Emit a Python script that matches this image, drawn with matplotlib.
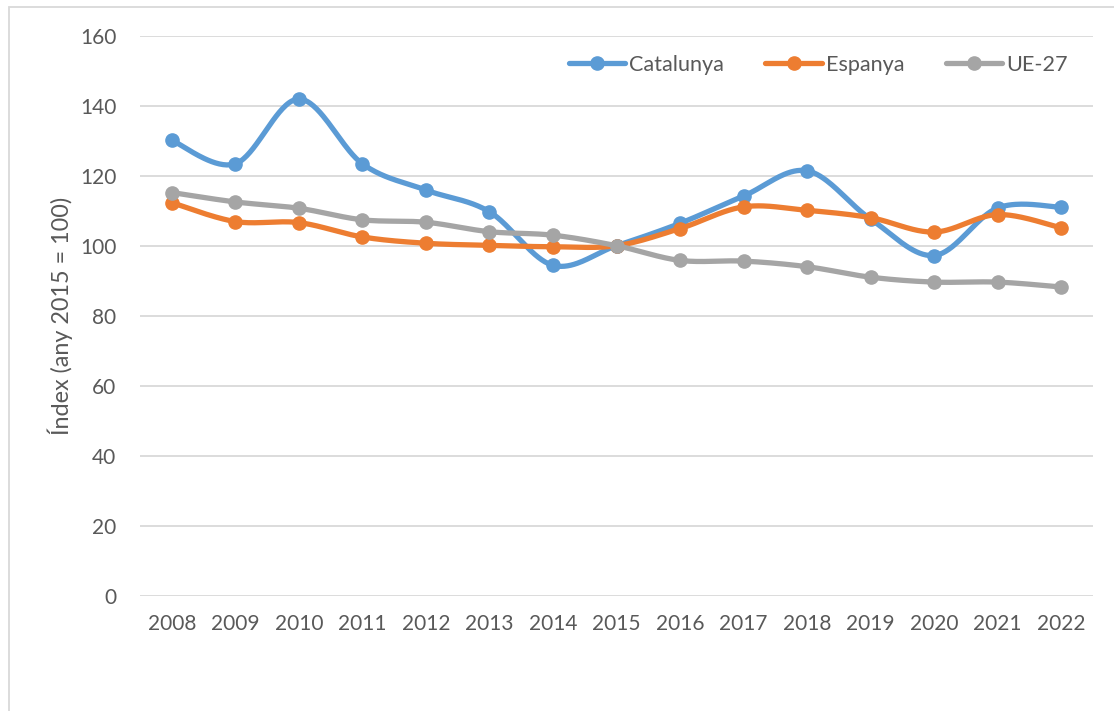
import numpy as np
import matplotlib
matplotlib.use("Agg")
import matplotlib.pyplot as plt
from matplotlib.patches import Rectangle
from matplotlib.lines import Line2D

years = ["2008", "2009", "2010", "2011", "2012", "2013", "2014", "2015",
         "2016", "2017", "2018", "2019", "2020", "2021", "2022"]
catalunya = [130.1, 123.4, 141.9, 123.4, 115.9, 109.7, 94.4, 100.0,
             106.4, 114.2, 121.4, 107.6, 97.2, 110.8, 111.0]
espanya = [112.3, 106.9, 106.6, 102.5, 100.7, 100.1, 99.7, 100.0,
           104.9, 111.1, 110.1, 108.0, 103.9, 108.9, 105.1]
ue27 = [115.2, 112.5, 110.7, 107.4, 106.7, 104.0, 103.0, 100.0,
        95.8, 95.6, 94.0, 91.0, 89.6, 89.6, 88.2]

series = [("Catalunya", catalunya, "#5B9BD5"),
          ("Espanya", espanya, "#ED7D31"),
          ("UE-27", ue27, "#A5A5A5")]

FONT = "Lato"
TXT = "#595959"
GRID = "#D9D9D9"


def smooth(xs, ys, n=40):
    """Catmull-Rom style cubic Bezier through every point."""
    xs = np.asarray(xs, float)
    ys = np.asarray(ys, float)
    pts = np.column_stack([xs, ys])
    out = [pts[0]]
    m = len(pts)
    t = np.linspace(0, 1, n)[1:, None]
    for i in range(m - 1):
        p0 = pts[max(i - 1, 0)]
        p1 = pts[i]
        p2 = pts[i + 1]
        p3 = pts[min(i + 2, m - 1)]
        c1 = p1 + (p2 - p0) / 6.0
        c2 = p2 - (p3 - p1) / 6.0
        seg = ((1 - t) ** 3) * p1 + 3 * ((1 - t) ** 2) * t * c1 \
            + 3 * (1 - t) * t ** 2 * c2 + t ** 3 * p2
        out.extend(seg)
    out = np.array(out)
    return out[:, 0], out[:, 1]


fig = plt.figure(figsize=(11.14, 7.11), dpi=100)
fig.patch.set_facecolor("white")

# outer chart frame
fig.patches.append(Rectangle((8.5 / 1114, -0.05), 1.2, 1 - 6.5 / 711 + 0.05,
                             transform=fig.transFigure, fill=False,
                             edgecolor=GRID, linewidth=1.3))

ax = fig.add_axes([140 / 1114, 1 - 595.7 / 711, (1093 - 140) / 1114,
                   (595.7 - 35.7) / 711])
x = np.arange(len(years))

handles = []
for name, vals, col in series:
    sx, sy = smooth(x, vals)
    ax.plot(sx, sy, color=col, linewidth=3.8, solid_capstyle="round",
            zorder=3)
    ax.plot(x, vals, linestyle="none", marker="o", markersize=9.5,
            color=col, zorder=3)
    handles.append(Line2D([], [], color=col, linewidth=3.8, marker="o",
                          markersize=9.5, solid_capstyle="round"))

ax.set_xlim(-0.5, len(years) - 0.5)
ax.set_ylim(0, 160)
ax.set_yticks(np.arange(0, 161, 20))
ax.set_xticks(x)
ax.set_xticklabels(years)
ax.grid(axis="y", color=GRID, linewidth=1.3)
ax.set_axisbelow(True)
for s in ax.spines.values():
    s.set_visible(False)
ax.tick_params(length=0, labelsize=15, labelcolor=TXT)
ax.tick_params(axis="x", pad=13)
ax.tick_params(axis="y", pad=17)
for lab in ax.get_xticklabels() + ax.get_yticklabels():
    lab.set_family(FONT)

ax.set_ylabel("Índex (any 2015 = 100)", fontsize=16.8, color=TXT,
              family=FONT, labelpad=5)

leg = fig.legend(handles, [s[0] for s in series], loc="center right",
                 ncol=3, frameon=False,
                 bbox_to_anchor=(1068 / 1114, 1 - 65 / 711),
                 bbox_transform=fig.transFigure, borderpad=0,
                 borderaxespad=0, handlelength=2.6, handletextpad=0.2,
                 columnspacing=1.9, prop={"family": FONT, "size": 15.6})
for t in leg.get_texts():
    t.set_color(TXT)

fig.savefig("out.png", dpi=100, facecolor="white")
